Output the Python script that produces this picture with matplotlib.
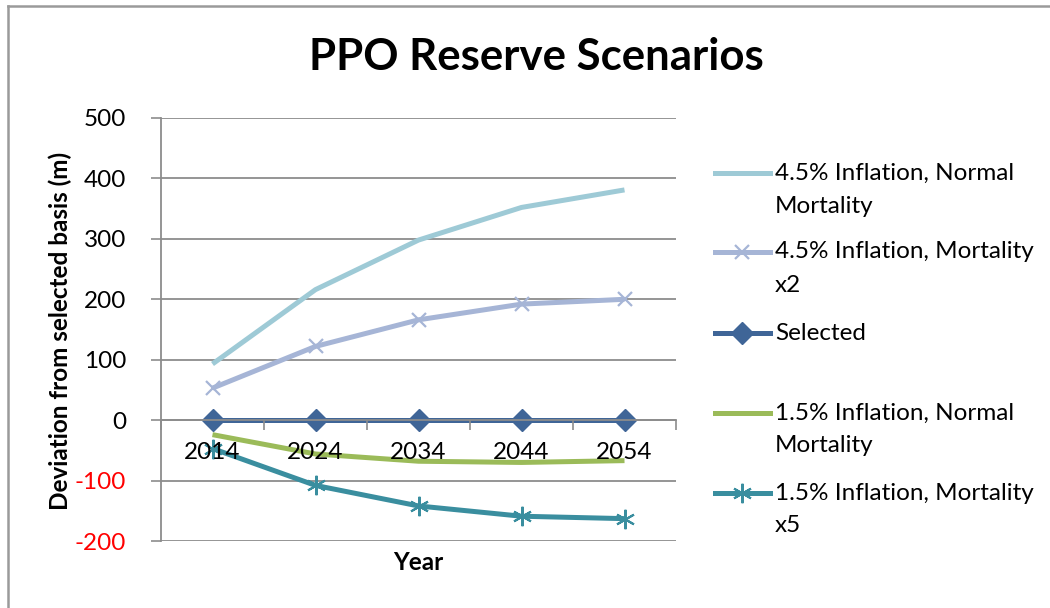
import matplotlib
matplotlib.use("Agg")
from matplotlib import pyplot as plt
from matplotlib.lines import Line2D
import numpy as np

years = ["2014", "2024", "2034", "2044", "2054"]
infl45_normal = [93, 216, 298, 352, 381]
infl45_mort2 = [53, 122, 166, 192, 200]
selected = [0, 0, 0, 0, 0]
infl15_normal = [-24, -56, -68, -70, -67]
infl15_mort5 = [-47, -108, -142, -159, -163]

labels = [
    ["4.5% Inflation, Normal", "Mortality"],
    ["4.5% Inflation, Mortality", "x2"],
    ["Selected"],
    ["1.5% Inflation, Normal", "Mortality"],
    ["1.5% Inflation, Mortality", "x5"],
]
y_ticks = [500, 400, 300, 200, 100, 0, -100, -200]

plt.rcParams['font.family'] = ['Lato', 'DejaVu Sans']

W, H = 1050, 608
fig = plt.figure(figsize=(W / 100, H / 100), dpi=100)
ax = fig.add_axes([161 / W, 1 - 541 / H, 515 / W, 423 / H])

star = (6, 2, 0)
styles = [
    dict(color="#9ECAD6", marker=None),
    dict(color="#A6B5D6", marker="x", ms=10, mew=1.6),
    dict(color="#3F6597", marker="D", ms=11.5),
    dict(color="#9BBB59", marker=None),
    dict(color="#3A8E9F", marker=star, ms=14, mew=1.5),
]
series = [infl45_normal, infl45_mort2, selected, infl15_normal, infl15_mort5]

x = np.arange(len(years))
for vals, st in zip(series, styles):
    ax.plot(x, vals, lw=3.6, solid_capstyle="butt", zorder=2, **st)

ax.set_xlim(-0.5, len(years) - 0.5)
ax.set_ylim(-200, 500)
ax.set_yticks(y_ticks)
ax.set_yticklabels([str(v) for v in y_ticks])
for lab, v in zip(ax.get_yticklabels(), y_ticks):
    lab.set_color("red" if v < 0 else "black")

ax.yaxis.grid(True, color="#8C8C8C", lw=1.3)
ax.tick_params(axis="y", length=7, width=1.2, color="#8C8C8C", labelsize=17.5, pad=18)

ax.spines["bottom"].set_position(("data", 0))
ax.spines["bottom"].set_color("#8C8C8C")
ax.spines["bottom"].set_linewidth(1.3)
ax.spines["left"].set_color("#8C8C8C")
ax.spines["left"].set_linewidth(1.3)
ax.spines["top"].set_visible(False)
ax.spines["right"].set_visible(False)

ax.set_xticks(x)
ax.set_xticklabels(years)
ax.set_xticks(np.arange(-0.5, len(years)), minor=True)
ax.tick_params(axis="x", which="major", length=0, labelsize=17.5, pad=16)
ax.tick_params(axis="x", which="minor", length=7, width=1.2, color="#8C8C8C")

ax.yaxis.set_zorder(0.5)
ax.xaxis.set_zorder(5)

fig.text(536 / W, 1 - 57 / H, "PPO Reserve Scenarios", ha="center", va="center",
         fontsize=31.5, fontweight="bold")
fig.text(60 / W, 1 - 331 / H, "Deviation from selected basis (m)", rotation=90,
         ha="center", va="center", fontsize=17.5, fontweight="bold")
fig.text(418 / W, 1 - 562 / H, "Year", ha="center", va="center",
         fontsize=17.5, fontweight="bold")

# legend drawn by hand so the key sits on the first text line
entry_y = [173, 252, 333, 413, 493]
for ey, lab, st in zip(entry_y, labels, styles):
    yy = 1 - ey / H
    fig.add_artist(Line2D([715 / W, 742 / W, 770 / W], [yy, yy, yy], transform=fig.transFigure,
                          lw=3.6, markevery=[1], **st))
    for i, line in enumerate(lab):
        fig.text(775 / W, 1 - (ey + 33 * i) / H, line, ha="left", va="center", fontsize=17.5)

# outer chart frame
fig.add_artist(Line2D([7.5 / W, 7.5 / W], [0, 1 - 5.5 / H], transform=fig.transFigure,
                      color="#9A9A9A", lw=1.8))
fig.add_artist(Line2D([7.5 / W, 1], [1 - 5.5 / H, 1 - 5.5 / H], transform=fig.transFigure,
                      color="#9A9A9A", lw=1.8))

fig.savefig("out.png", dpi=100)
